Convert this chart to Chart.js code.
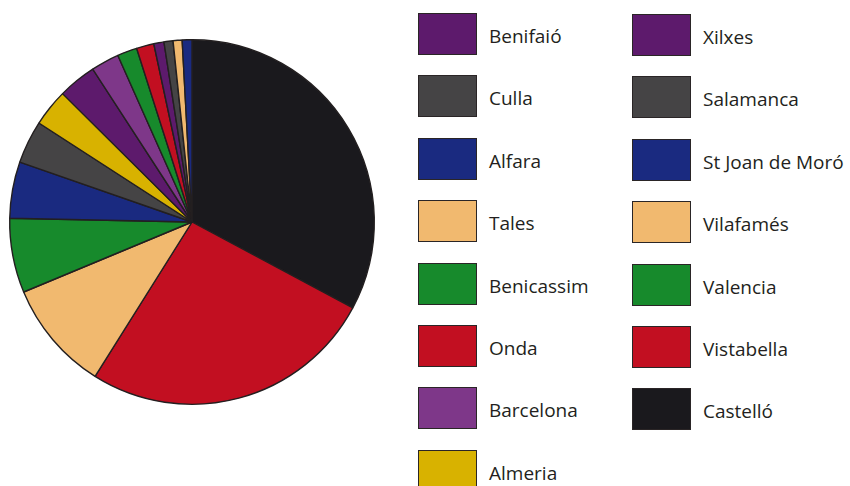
<!DOCTYPE html>
<html>
<head>
<meta charset="utf-8">
<script src="https://cdn.jsdelivr.net/npm/chart.js@4"></script>
<style>
  html, body { margin: 0; padding: 0; background: #fff; width: 850px; height: 486px; overflow: hidden; }
  #pieWrap { position: absolute; left: 0; top: 0; width: 384px; height: 444px; }
  .item { position: absolute; height: 42px; }
  .box { position: absolute; left: 0; top: 0; width: 57px; height: 40px; border: 1px solid #2a2526; }
  .lbl { position: absolute; top: 2px; height: 42px; line-height: 42px; white-space: nowrap;
         font-family: "Open Sans", sans-serif; font-size: 19px; color: #231f20; }
</style>
</head>
<body>
<div id="pieWrap"><canvas id="pie" width="384" height="444"></canvas></div>
<div id="legend"></div>
<script>
// Slices in clockwise order from 12 o'clock
const labels = ["Castelló", "Onda", "Tales", "Benicassim", "Alfara", "Culla", "Almeria", "Benifaió",
                "Barcelona", "Valencia", "Vistabella", "Xilxes", "Salamanca", "Vilafamés", "St Joan de Moró"];
const values = [32.8, 26.1, 9.8, 6.6, 5.0, 3.8, 3.3, 3.4, 2.5, 1.75, 1.55, 0.9, 0.8, 0.8, 0.86];
const colors = ["#1a191d", "#c20f21", "#f1b96f", "#178a2c", "#1a2a80", "#454445", "#d8b200", "#5d1a6c",
                "#7e3789", "#178a2c", "#c20f21", "#5d1a6c", "#454445", "#f1b96f", "#1a2a80"];
// Legend layout (two columns)
const legendCol1 = ["Benifaió", "Culla", "Alfara", "Tales", "Benicassim", "Onda", "Barcelona", "Almeria"];
const legendCol2 = ["Xilxes", "Salamanca", "St Joan de Moró", "Vilafamés", "Valencia", "Vistabella", "Castelló"];

new Chart(document.getElementById('pie'), {
  type: 'pie',
  data: {
    labels: labels,
    datasets: [{
      data: values,
      backgroundColor: colors,
      borderColor: '#231f20',
      borderWidth: 1.4
    }]
  },
  options: {
    responsive: false,
    devicePixelRatio: 1,
    animation: false,
    layout: { padding: 9 },
    plugins: { legend: { display: false }, tooltip: { enabled: false } }
  }
});

const legend = document.getElementById('legend');
function addColumn(names, boxLeft, textLeft, top0, pitch) {
  names.forEach((name, i) => {
    const idx = labels.indexOf(name);
    const item = document.createElement('div');
    item.className = 'item';
    item.style.left = boxLeft + 'px';
    item.style.top = (top0 + i * pitch) + 'px';
    const box = document.createElement('div');
    box.className = 'box';
    box.style.background = colors[idx];
    const lbl = document.createElement('div');
    lbl.className = 'lbl';
    lbl.style.left = (textLeft - boxLeft) + 'px';
    lbl.textContent = name;
    item.appendChild(box);
    item.appendChild(lbl);
    legend.appendChild(item);
  });
}
addColumn(legendCol1, 418, 489, 13, 62.4);
addColumn(legendCol2, 632, 703, 14, 62.4);
</script>
</body>
</html>
